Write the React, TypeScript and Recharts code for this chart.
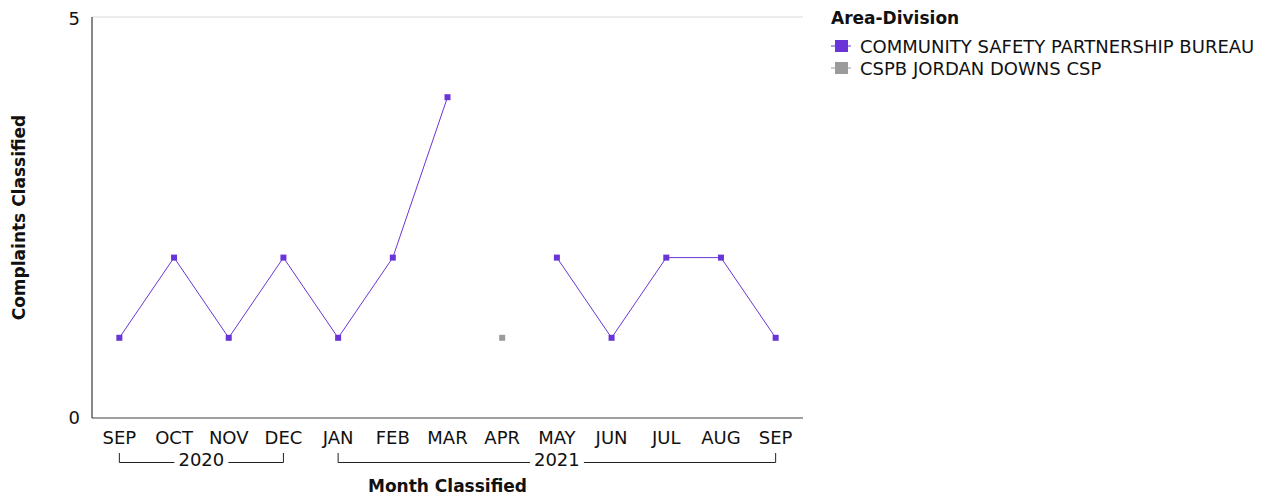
import React from 'react'
import { LineChart, Line, XAxis, YAxis, CartesianGrid, Label } from 'recharts'

// month classified, Sep 2020 .. Sep 2021
const periods = ['2020-09', '2020-10', '2020-11', '2020-12', '2021-01', '2021-02', '2021-03', '2021-04', '2021-05', '2021-06', '2021-07', '2021-08', '2021-09']
const monthLabels = ['SEP', 'OCT', 'NOV', 'DEC', 'JAN', 'FEB', 'MAR', 'APR', 'MAY', 'JUN', 'JUL', 'AUG', 'SEP']
const yearGroups = [
  { label: '2020', first: 0, last: 3 },
  { label: '2021', first: 4, last: 12 },
]

const cspbValues = [1, 2, 1, 2, 1, 2, 4, null, 2, 1, 2, 2, 1]
const jordanDownsValues = [null, null, null, null, null, null, null, 1, null, null, null, null, null]

const seriesNames = ['COMMUNITY SAFETY PARTNERSHIP BUREAU', 'CSPB JORDAN DOWNS CSP']
const seriesColors = ['#6a35d8', '#9b9b9b']
const yTicks = [0, 5]

const data = periods.map((p, i) => ({
  period: p,
  cspb: cspbValues[i],
  jordan: jordanDownsValues[i],
}))

const FONT = '"DejaVu Sans", sans-serif'

function SquareDot(color: string) {
  return (props: any) => {
    const { cx, cy, index } = props
    if (cx == null || cy == null) return <g key={`d-${index}`} />
    return <rect key={`d-${index}`} x={cx - 3} y={cy - 3} width={6} height={6} fill={color} />
  }
}

function MonthTick(props: any) {
  const { x, y, payload, index } = props
  const step = (payload.offset || 0) * 2
  const group = yearGroups.find((g) => g.first === index)
  let bracket = null
  if (group && step > 0) {
    const x1 = x
    const x2 = x + (group.last - group.first) * step
    const mid = (x1 + x2) / 2
    const half = 27
    const ly = y + 44.5
    bracket = (
      <g stroke="#222" strokeWidth={1} fill="none">
        <polyline points={`${x1},${y + 35} ${x1},${ly} ${mid - half},${ly}`} />
        <polyline points={`${mid + half},${ly} ${x2},${ly} ${x2},${y + 35}`} />
        <text x={mid} y={y + 48} textAnchor="middle" fill="#111" stroke="none" fontSize={18} fontFamily={FONT}>
          {group.label}
        </text>
      </g>
    )
  }
  return (
    <g>
      <text x={x} y={y + 26} textAnchor="middle" fill="#111" fontSize={18} fontFamily={FONT}>
        {monthLabels[index]}
      </text>
      {bracket}
    </g>
  )
}

function LegendBox() {
  return (
    <div style={{ position: 'absolute', left: 823, top: 0, fontFamily: FONT, color: '#111' }}>
      <div style={{ fontWeight: 'bold', fontSize: 17, lineHeight: '20px', marginBottom: 7 }}>Area-Division</div>
      {seriesNames.map((name, i) => (
        <div key={name} style={{ display: 'flex', alignItems: 'center', height: 22, fontSize: 18, whiteSpace: 'nowrap' }}>
          <svg width={22} height={14} style={{ marginRight: 7 }}>
            <line x1={0} y1={7} x2={20} y2={7} stroke={seriesColors[i]} strokeWidth={1} />
            <rect x={4} y={1} width={13} height={12} fill={seriesColors[i]} />
          </svg>
          <span>{name}</span>
        </div>
      ))}
    </div>
  )
}

export default function App() {
  return (
    <div style={{ position: 'relative', width: 1249, height: 490 }}>
      <LineChart width={1249} height={490} data={data} margin={{ top: 9, right: 454, bottom: 0, left: 0 }}>
        <CartesianGrid vertical={false} stroke="#d9d9d9" />
        <XAxis
          dataKey="period"
          scale="band"
          height={80}
          tickSize={0}
          tickMargin={0}
          stroke="#555"
          interval={0}
          tick={<MonthTick />}
        >
          <Label
            content={(p: any) => {
              const vb = p.viewBox
              return (
                <text x={vb.x + vb.width / 2} y={484} textAnchor="middle" fontWeight="bold" fontSize={17} fontFamily={FONT} fill="#111">
                  Month Classified
                </text>
              )
            }}
          />
        </XAxis>
        <YAxis
          width={84}
          domain={[0, 5]}
          ticks={yTicks}
          tickLine={false}
          tickMargin={6}
          stroke="#111"
          tick={{ fill: '#111', fontSize: 18, fontFamily: FONT }}
        >
          <Label
            content={(p: any) => {
              const vb = p.viewBox
              const cy = vb.y + vb.height / 2
              return (
                <text x={11} y={cy} transform={`rotate(-90, 11, ${cy})`} textAnchor="middle" dominantBaseline="central" fontWeight="bold" fontSize={17} fontFamily={FONT} fill="#111">
                  Complaints Classified
                </text>
              )
            }}
          />
        </YAxis>
        <Line
          dataKey="cspb"
          name={seriesNames[0]}
          stroke={seriesColors[0]}
          strokeWidth={1}
          dot={SquareDot(seriesColors[0])}
          activeDot={false}
          connectNulls={false}
          isAnimationActive={false}
        />
        <Line
          dataKey="jordan"
          name={seriesNames[1]}
          stroke={seriesColors[1]}
          strokeWidth={1}
          dot={SquareDot(seriesColors[1])}
          activeDot={false}
          connectNulls={false}
          isAnimationActive={false}
        />
      </LineChart>
      <LegendBox />
    </div>
  )
}
